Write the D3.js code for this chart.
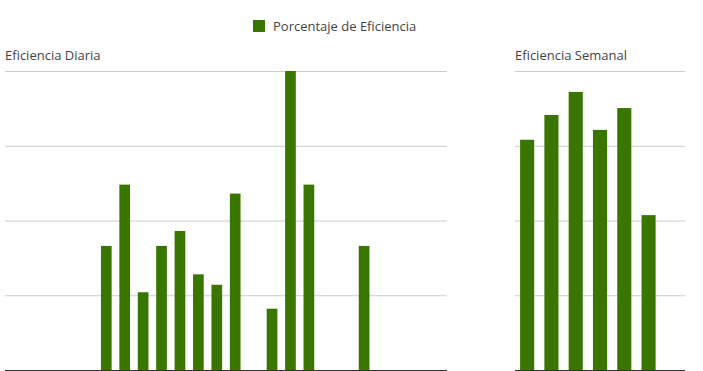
<!DOCTYPE html>
<html>
<head>
<meta charset="utf-8">
<script src="https://cdn.jsdelivr.net/npm/d3@7"></script>
<style>
  body { margin: 0; background: #fff; }
  text { font-family: "Open Sans", sans-serif; }
</style>
</head>
<body>
<div id="chart"></div>
<script>
// daily efficiency, one value per hour (null = no bar)
const hours = d3.range(24).map(h => String(h))
const dailyValues = [null, null, null, null, null, 41.5, 62, 26, 41.5, 46.5, 32, 28.5,
                     59, null, 20.5, 100, 62, null, null, 41.5, null, null, null, null]

// weekly efficiency, one value per day
const days = ["Lun", "Mar", "Mié", "Jue", "Vie", "Sáb", "Dom"]
const weeklyValues = [77, 85.3, 93, 80.3, 87.6, 51.8, null]

const yTicks = [0, 25, 50, 75, 100]
const seriesName = "Porcentaje de Eficiencia"

const W = 703, H = 371
const barColor = "#387600"
const plotTop = 71, plotBottom = 370

const svg = d3.select("#chart")
    .append("svg")
    .attr("width", W)
    .attr("height", H)

// legend
const legend = svg.append("g").attr("transform", "translate(253,20)")
legend.append("rect").attr("width", 12).attr("height", 12).attr("fill", barColor)
legend.append("text")
    .attr("x", 20).attr("y", 10.5)
    .attr("font-size", 13).attr("fill", "#444")
    .text(seriesName)

const y = d3.scaleLinear().domain([0, 100]).range([plotBottom, plotTop])

const drawPanel = (title, cats, values, x0, x1) => {
    const g = svg.append("g")

    const x = d3.scaleBand()
        .domain(cats)
        .range([x0, x1])
        .paddingInner(0.42)
        .paddingOuter(0.21)

    g.append("text")
        .attr("x", x0).attr("y", 60)
        .attr("font-size", 13).attr("fill", "#444")
        .text(title)

    // gridlines
    g.selectAll(".grid")
        .data(yTicks.slice(1))
        .enter()
        .append("line")
        .attr("x1", x0).attr("x2", x1)
        .attr("y1", d => y(d) + 0.5).attr("y2", d => y(d) + 0.5)
        .attr("stroke", "#cccccc")

    const data = cats.map((c, i) => ({cat: c, v: values[i]})).filter(d => d.v != null)
    g.selectAll(".bar")
        .data(data)
        .enter()
        .append("rect")
        .attr("x", d => x(d.cat))
        .attr("width", x.bandwidth())
        .attr("y", d => y(d.v))
        .attr("height", d => y(0) - y(d.v))
        .attr("fill", barColor)

    // baseline
    g.append("line")
        .attr("x1", x0).attr("x2", x1)
        .attr("y1", y(0) + 0.5).attr("y2", y(0) + 0.5)
        .attr("stroke", "#333")
}

drawPanel("Eficiencia Diaria", hours, dailyValues, 5, 447)
drawPanel("Eficiencia Semanal", days, weeklyValues, 515, 685)
</script>
</body>
</html>
